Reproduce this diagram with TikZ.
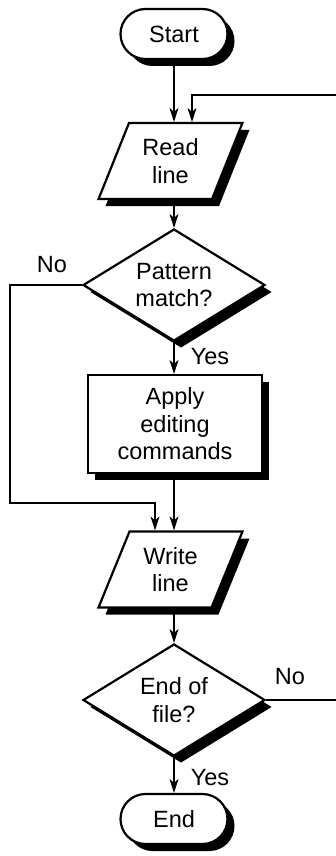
\documentclass[tikz,border=0pt]{standalone}
\usepackage{fontspec}
\setmainfont{Liberation Sans}
\usetikzlibrary{shapes.geometric,shapes.misc,shadows,arrows.meta,calc}
\begin{document}
\begin{tikzpicture}[x=1pt,y=-1pt,
  font=\fontsize{23.5}{27.5}\selectfont,
  shad/.style={drop shadow={shadow xshift=7pt,shadow yshift=-7pt,fill=black,opacity=1}},
  base/.style={draw=black,line width=2.2pt,fill=white,inner sep=0pt,align=center,shad},
  term/.style={base,rounded rectangle,minimum width=107pt,minimum height=50pt},
  io/.style={base,trapezium,trapezium left angle=65.3,trapezium right angle=114.7,
             trapezium stretches=true,minimum width=145pt,minimum height=76pt},
  dec/.style={base,diamond,minimum width=182pt,minimum height=112pt,aspect=1.63},
  proc/.style={base,rectangle,minimum width=174pt,minimum height=98pt},
  arr/.style={line width=1.1pt,-{Stealth[length=14pt,width=9pt,inset=4pt]}},
  con/.style={line width=1.1pt},
  lbl/.style={inner sep=0pt}
]
\useasboundingbox (0,0) rectangle (335,856);
\node[term] (start) at (174,34) {Start};
\node[io] (read) at (170.5,161) {Read\\line};
\node[dec] (d1) at (174,285) {Pattern\\match?};
\node[proc] (apply) at (175,424) {Apply\\editing\\commands};
\node[io] (write) at (170.5,569.5) {Write\\line};
\node[dec] (d2) at (174,700) {End of\\file?};
\node[term] (end) at (174,819) {End};

\coordinate (loopin) at (336,95);
\coordinate (loopx) at (192,95);
\coordinate (leftx) at (10,503);
\coordinate (mergex) at (155,503);
\coordinate (applyout) at (174,473);
\coordinate (exit2) at (336,700);

\draw[arr] (start.south) -- (start.south |- read.north);
\draw[arr] (loopin) -- (loopx) -- (loopx |- read.north);
\draw[arr] (read.south -| d1.north) -- (d1.north);
\draw[arr] (d1.south) -- (d1.south |- apply.north);
\draw[arr] (d1.west) -| (leftx) -- (mergex) -- (mergex |- write.north);
\draw[arr] (applyout) -- (applyout |- write.north);
\draw[arr] (write.south -| d2.north) -- (d2.north);
\draw[con] (d2.east) -- (exit2);
\draw[arr] (d2.south) -- (end.north);

\node[lbl] (no1) at (52,265) {No};
\node[lbl] (yes1) at (210,357) {Yes};
\node[lbl] (no2) at (290,677) {No};
\node[lbl] (yes2) at (210,778) {Yes};
\end{tikzpicture}
\end{document}
